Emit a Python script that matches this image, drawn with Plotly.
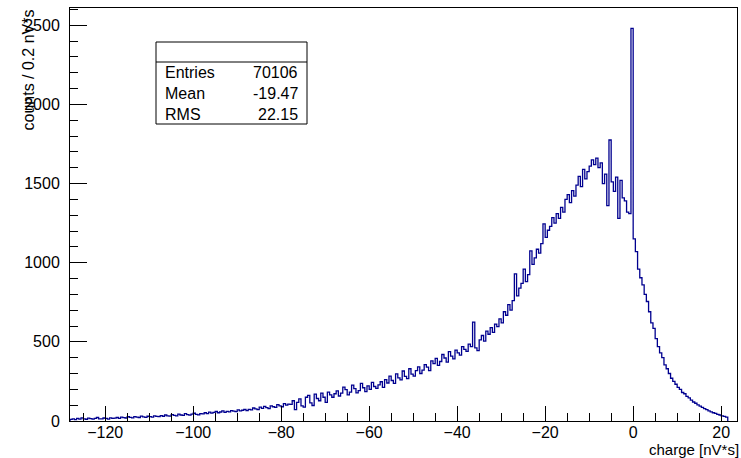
import plotly.graph_objects as go

# ---------------- data ----------------
bin_start = -128.0
bin_width = 0.5

counts_m128_m78 = [10, 14, 9, 16, 12, 20, 13, 11, 18, 15, 12, 17, 22, 14, 13, 19, 16, 12, 20, 17,
                   18, 22, 16, 25, 21, 19, 27, 23, 20, 28, 24, 22, 31, 26, 23, 30, 28, 25, 33, 29,
                   28, 34, 30, 38, 33, 31, 40, 36, 32, 43, 38, 35, 46, 40, 37, 44, 49, 42, 39, 47,
                   45, 52, 47, 56, 50, 54, 60, 52, 57, 64, 55, 61, 58, 66, 62, 59, 70, 64, 68, 74,
                   66, 74, 70, 82, 76, 72, 88, 80, 92, 84, 78, 96, 90, 86, 104, 95, 90, 110, 100, 106]
counts_m78_m28 = [105, 128, 72, 118, 140, 96, 88, 150, 162, 115, 98, 170, 142, 128, 176, 150, 118, 182, 165, 150,
                  172, 190, 158, 176, 214, 198, 165, 182, 226, 205, 178, 192, 238, 210, 186, 222, 200, 244, 218, 206,
                  228, 248, 212, 262, 240, 284, 256, 238, 298, 272, 260, 316, 282, 268, 330, 296, 284, 318, 342, 300,
                  322, 356, 340, 318, 380, 362, 396, 352, 376, 420, 398, 372, 438, 410, 392, 448, 430, 416, 470, 452,
                  440, 486, 470, 625, 462, 445, 512, 540, 505, 568, 548, 590, 560, 612, 596, 645, 620, 690, 668, 735]
counts_m28_0 = [700, 760, 930, 790, 840, 870, 960, 880, 925, 1075, 990, 1030, 1085, 1060, 1120, 1245, 1160, 1205, 1230, 1285,
                1250, 1310, 1280, 1350, 1320, 1400, 1430, 1380, 1455, 1420, 1490, 1545, 1480, 1590, 1530, 1575, 1610, 1650, 1620, 1660,
                1600, 1630, 1500, 1560, 1360, 1775, 1510, 1450, 1540, 1280, 1520, 1410, 1390, 1320, 1310, 2480]
counts_0_21 = [1150, 1070, 960, 905, 860, 800, 755, 690, 620, 585, 520, 470, 430, 400, 355, 330, 300, 270, 250, 232,
               212, 200, 180, 172, 156, 146, 132, 120, 112, 102, 94, 86, 78, 72, 64, 58, 52, 48, 42, 38, 33, 29, 24]

stats_labels = ["Entries", "Mean", "RMS"]
stats_values = ["70106", "-19.47", "22.15"]

x_title = "charge [nV*s]"
y_title = "counts / 0.2 nV*s"

# ---------------- build histogram outline ----------------
counts = counts_m128_m78 + counts_m78_m28 + counts_m28_0 + counts_0_21
edges = [bin_start + i * bin_width for i in range(len(counts) + 1)]
xs = [edges[0]] + edges + [edges[-1]]
ys = [0] + counts + [counts[-1], 0]

W, H = 741, 458
L, R, T, B = 70, 4, 8, 37
pw, ph = W - L - R, H - T - B

def px(xp):
    return (xp - L) / pw

def py(yp):
    return (H - B - yp) / ph

FONT = "Liberation Sans, Arial, Helvetica, sans-serif"

fig = go.Figure()
fig.add_trace(go.Scatter(x=xs, y=ys, mode="lines", line=dict(color="#00008f", width=1.3, shape="hv"),
                         hoverinfo="skip", showlegend=False))

fig.update_layout(
    width=W, height=H,
    margin=dict(l=L, r=R, t=T, b=B, pad=0),
    paper_bgcolor="white", plot_bgcolor="white",
    font=dict(family=FONT, size=16, color="black"),
    showlegend=False,
)
fig.update_xaxes(range=[-128, 23.6], tick0=0, dtick=20, ticks="inside", ticklen=15, tickwidth=1,
                 tickcolor="black", showline=True, mirror=True, linecolor="black", linewidth=1,
                 showgrid=False, zeroline=False, ticklabelstandoff=-3,
                 minor=dict(dtick=5, ticks="inside", ticklen=8, tickcolor="black", showgrid=False),
                 tickfont=dict(size=16))
fig.update_yaxes(range=[0, 2609], tick0=0, dtick=500, ticks="inside", ticklen=17, tickwidth=1,
                 tickcolor="black", showline=True, mirror=True, linecolor="black", linewidth=1,
                 showgrid=False, zeroline=False, ticklabelstandoff=6,
                 minor=dict(dtick=100, ticks="inside", ticklen=8, tickcolor="black", showgrid=False),
                 tickfont=dict(size=16))

# axis titles
fig.add_annotation(x=1, y=py(449), xref="paper", yref="paper", text=x_title, showarrow=False,
                   xanchor="right", yanchor="middle", xshift=3, borderpad=0, font=dict(size=15))
fig.add_annotation(x=px(28), y=1, xref="paper", yref="paper", text=y_title, showarrow=False,
                   textangle=-90, xanchor="center", yanchor="top", font=dict(size=16))

# stats box
fig.add_shape(type="rect", xref="paper", yref="paper", x0=px(156), x1=px(307), y0=py(124), y1=py(42),
              line=dict(color="black", width=1), fillcolor="white", layer="above")
fig.add_shape(type="line", xref="paper", yref="paper", x0=px(156), x1=px(307), y0=py(62), y1=py(62),
              line=dict(color="black", width=1), layer="above")
row_y = [73, 94, 114]
for lab, val, ry in zip(stats_labels, stats_values, row_y):
    fig.add_annotation(x=px(163), y=py(ry), xref="paper", yref="paper", text=lab, showarrow=False,
                       xanchor="left", yanchor="middle", font=dict(size=16))
    fig.add_annotation(x=px(300), y=py(ry), xref="paper", yref="paper", text=val, showarrow=False,
                       xanchor="right", yanchor="middle", font=dict(size=16))

fig.write_html("out.html")
